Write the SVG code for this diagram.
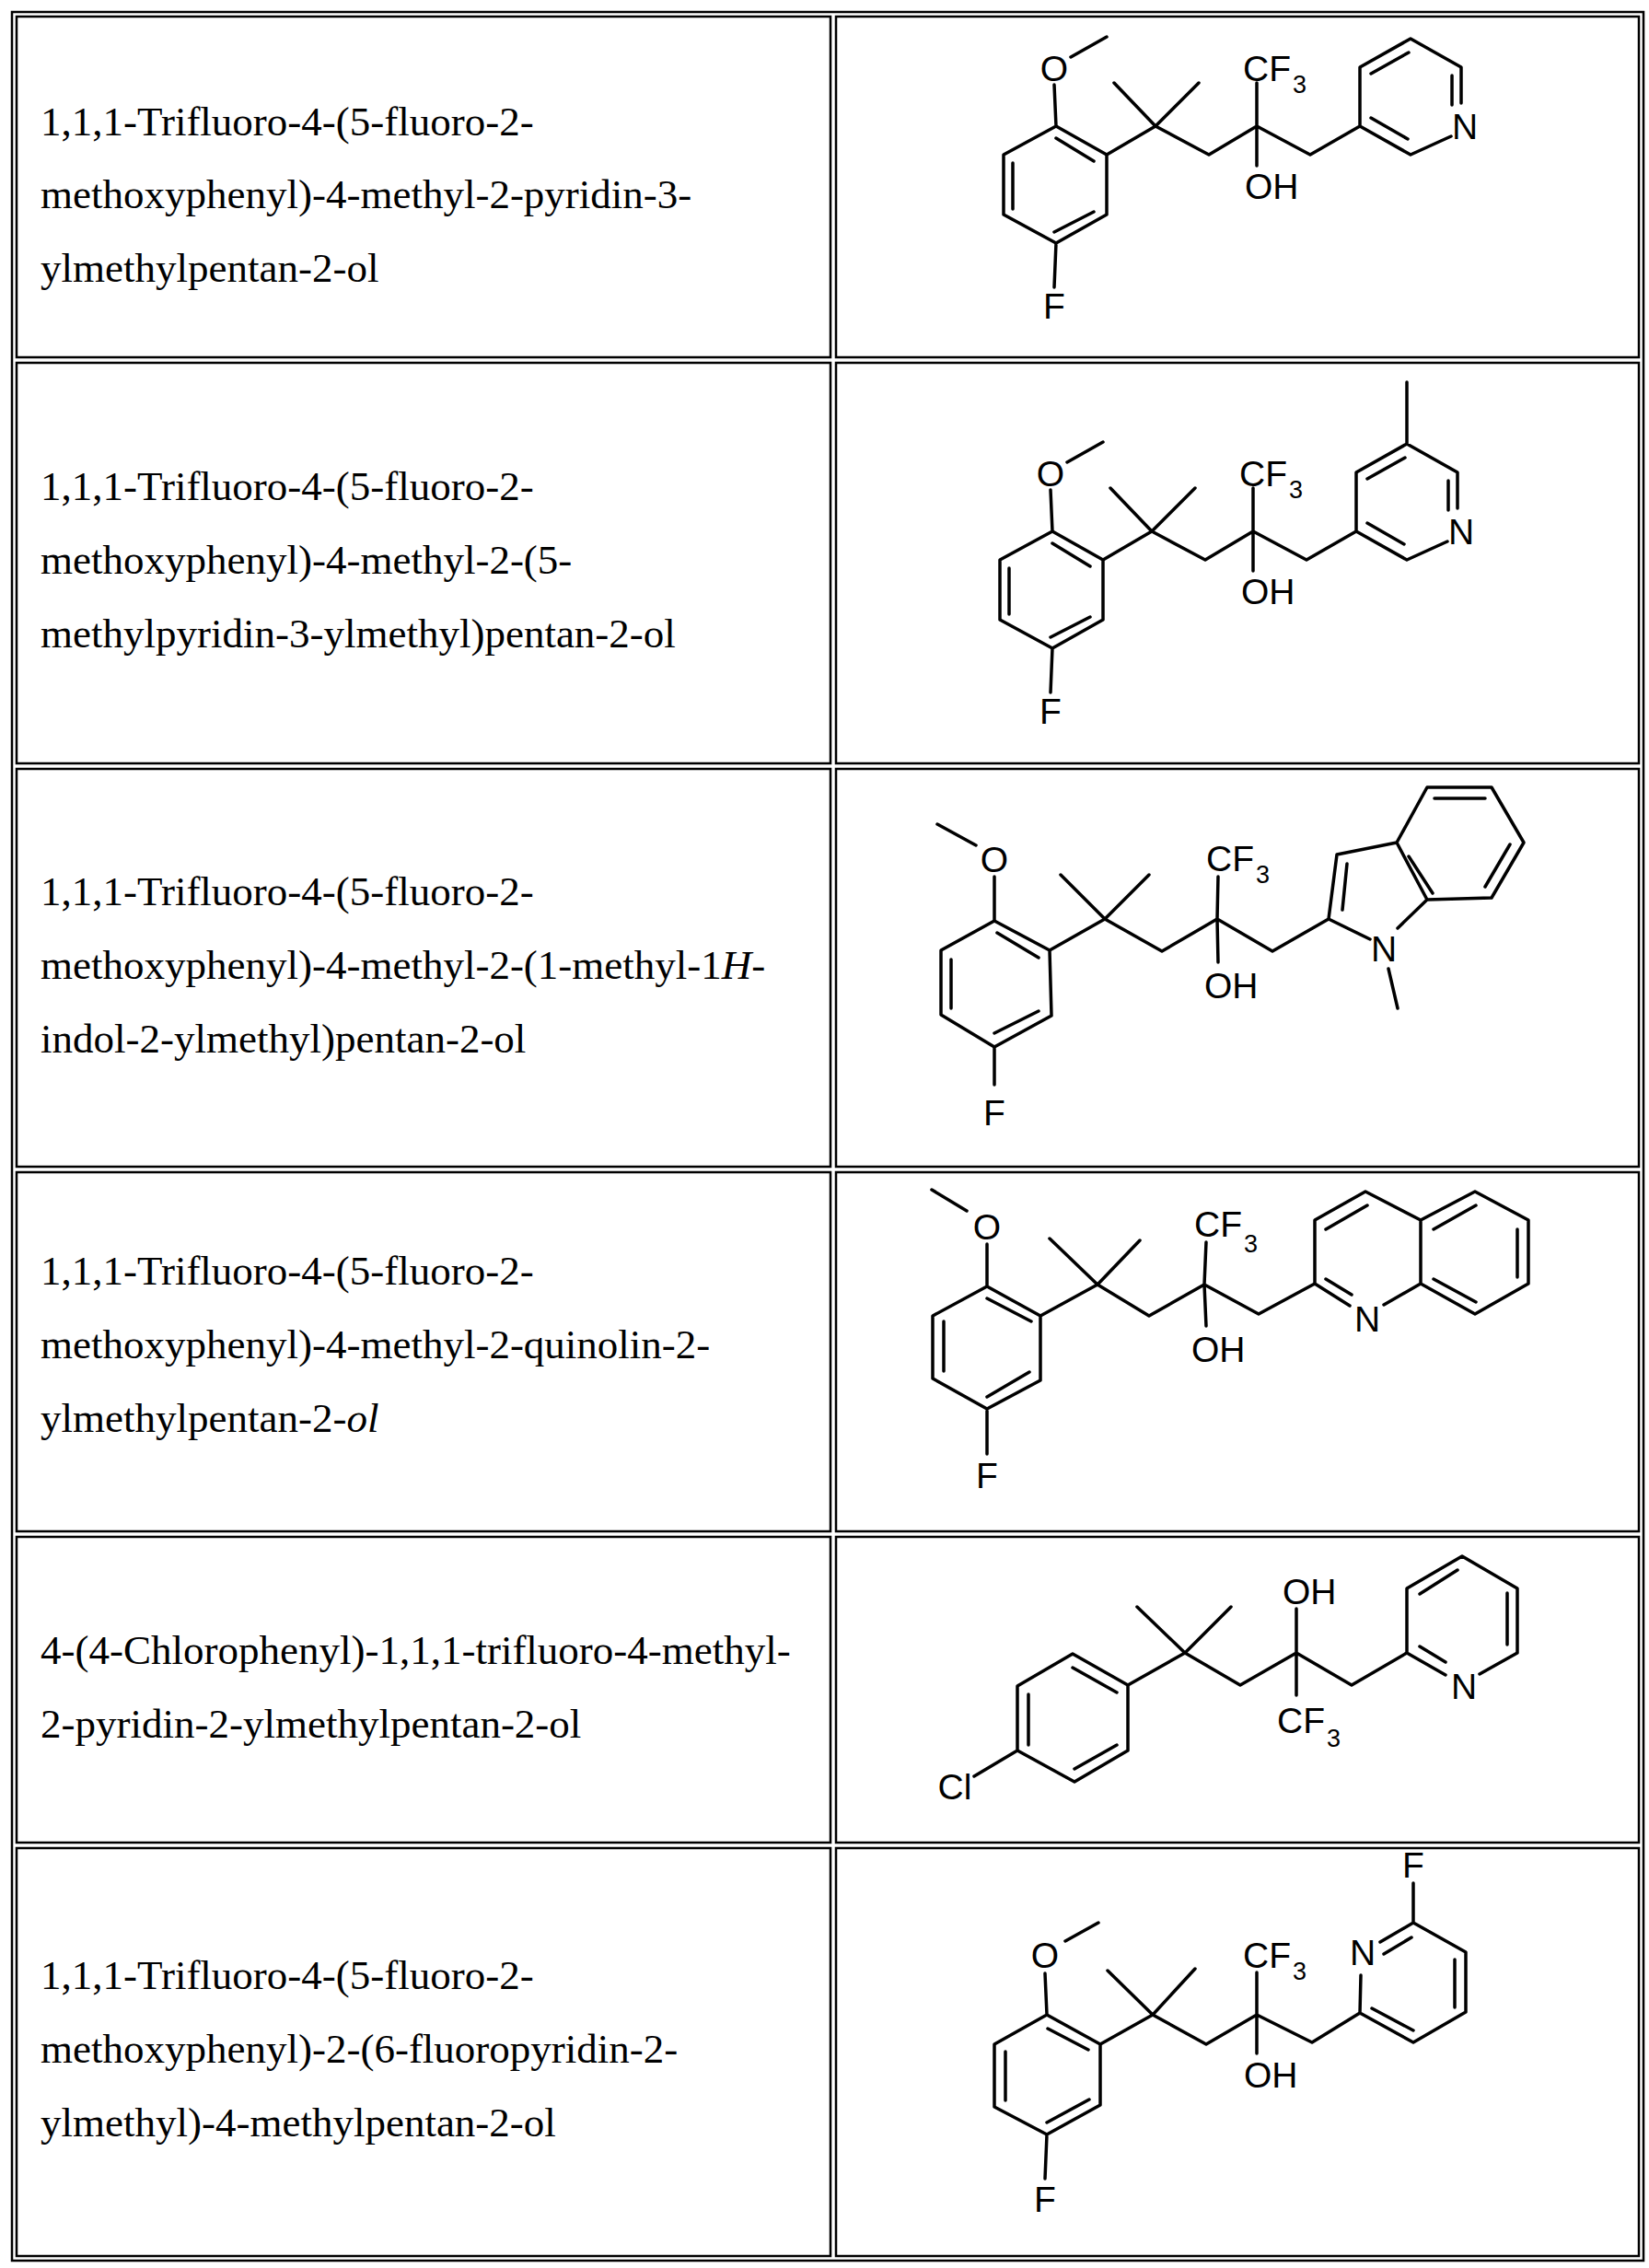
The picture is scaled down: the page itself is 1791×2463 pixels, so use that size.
<svg xmlns="http://www.w3.org/2000/svg" width="1791" height="2463" viewBox="0 0 1791 2463">
<style>
.cell{fill:none;stroke:#000;stroke-width:2.5}
.name{font-family:"Liberation Serif","Times New Roman",serif;font-size:45px;fill:#000}
.b{fill:none;stroke:#000;stroke-width:3.5;stroke-linecap:round;stroke-linejoin:round}
.a{font-family:"Liberation Sans",Arial,sans-serif;font-size:39px;fill:#000}
.s{font-family:"Liberation Sans",Arial,sans-serif;font-size:27px;fill:#000}
</style>
<rect width="1791" height="2463" fill="#fff"/>
<g id="table">
<rect class="cell" x="13" y="13" width="1772" height="2442"/>
<rect class="cell" x="18" y="18" width="884" height="370"/><rect class="cell" x="908" y="18" width="872" height="370"/>
<rect class="cell" x="18" y="394" width="884" height="435"/><rect class="cell" x="908" y="394" width="872" height="435"/>
<rect class="cell" x="18" y="835" width="884" height="432"/><rect class="cell" x="908" y="835" width="872" height="432"/>
<rect class="cell" x="18" y="1273" width="884" height="390"/><rect class="cell" x="908" y="1273" width="872" height="390"/>
<rect class="cell" x="18" y="1669" width="884" height="332"/><rect class="cell" x="908" y="1669" width="872" height="332"/>
<rect class="cell" x="18" y="2007" width="884" height="443"/><rect class="cell" x="908" y="2007" width="872" height="443"/>
</g>
<g id="name1"><text class="name" x="44" y="147">1,1,1-Trifluoro-4-(5-fluoro-2-</text><text class="name" x="44" y="226">methoxyphenyl)-4-methyl-2-pyridin-3-</text><text class="name" x="44" y="306">ylmethylpentan-2-ol</text></g>
<g id="name2"><text class="name" x="44" y="543">1,1,1-Trifluoro-4-(5-fluoro-2-</text><text class="name" x="44" y="623">methoxyphenyl)-4-methyl-2-(5-</text><text class="name" x="44" y="703">methylpyridin-3-ylmethyl)pentan-2-ol</text></g>
<g id="name3"><text class="name" x="44" y="983">1,1,1-Trifluoro-4-(5-fluoro-2-</text><text class="name" x="44" y="1063">methoxyphenyl)-4-methyl-2-(1-methyl-1<tspan font-style="italic">H</tspan>-</text><text class="name" x="44" y="1143">indol-2-ylmethyl)pentan-2-ol</text></g>
<g id="name4"><text class="name" x="44" y="1395">1,1,1-Trifluoro-4-(5-fluoro-2-</text><text class="name" x="44" y="1475">methoxyphenyl)-4-methyl-2-quinolin-2-</text><text class="name" x="44" y="1555">ylmethylpentan-2-<tspan font-style="italic">ol</tspan></text></g>
<g id="name5"><text class="name" x="44" y="1807">4-(4-Chlorophenyl)-1,1,1-trifluoro-4-methyl-</text><text class="name" x="44" y="1887">2-pyridin-2-ylmethylpentan-2-ol</text></g>
<g id="name6"><text class="name" x="44" y="2160">1,1,1-Trifluoro-4-(5-fluoro-2-</text><text class="name" x="44" y="2240">methoxyphenyl)-2-(6-fluoropyridin-2-</text><text class="name" x="44" y="2320">ylmethyl)-4-methylpentan-2-ol</text></g>

<g id="mol1">
<path class="b" d="M1147,137 L1202,168 L1202,233 L1147,264 L1090,233 L1090,168 Z M1147,150 L1188,175 M1100,177 L1100,227 M1145,252 L1188,230 M1147,137 L1145,92 M1163,62 L1202,40 M1147,264 L1145,312 M1202,168 L1255,137 L1210,90 M1255,137 L1302,90 M1255,137 L1313,168 L1365,137 L1423,168 L1477,137 M1365,137 L1365,90 M1365,137 L1365,180 M1477,137 L1477,73 L1532,42 L1587,73 L1587,112 M1576,148 L1532,168 L1477,137 M1489,80 L1530,57 M1577,82 L1577,114 M1489,128 L1529,151"/>
<text class="a" x="1145" y="88" text-anchor="middle">O</text><text class="a" x="1145" y="346" text-anchor="middle">F</text>
<text class="a" x="1350" y="88">CF</text><text class="s" x="1404" y="101">3</text>
<text class="a" x="1352" y="216">OH</text><text class="a" x="1591" y="151" text-anchor="middle">N</text>
</g>
<g id="mol2" transform="translate(-4,440)">
<path class="b" d="M1147,137 L1202,168 L1202,233 L1147,264 L1090,233 L1090,168 Z M1147,150 L1188,175 M1100,177 L1100,227 M1145,252 L1188,230 M1147,137 L1145,92 M1163,62 L1202,40 M1147,264 L1145,312 M1202,168 L1255,137 L1210,90 M1255,137 L1302,90 M1255,137 L1313,168 L1365,137 L1423,168 L1477,137 M1365,137 L1365,90 M1365,137 L1365,180 M1477,137 L1477,73 L1532,42 L1587,73 L1587,112 M1576,148 L1532,168 L1477,137 M1489,80 L1530,57 M1577,82 L1577,114 M1489,128 L1529,151 M1532,42 L1532,-25"/>
<text class="a" x="1145" y="88" text-anchor="middle">O</text><text class="a" x="1145" y="346" text-anchor="middle">F</text>
<text class="a" x="1350" y="88">CF</text><text class="s" x="1404" y="101">3</text>
<text class="a" x="1352" y="216">OH</text><text class="a" x="1591" y="151" text-anchor="middle">N</text>
</g>
<g id="mol3">
<path class="b" d="M1080,1000 L1140,1032 L1142,1103 L1080,1137 L1022,1102 L1022,1032 Z M1083,1013 L1128,1040 M1033,1042 L1033,1095 M1080,1122 L1128,1098 M1080,1000 L1080,952 M1060,918 L1018,895 M1080,1137 L1080,1178 M1140,1032 L1200,998 L1152,950 M1200,998 L1248,950 M1200,998 L1262,1033 L1322,998 L1382,1033 L1443,998 M1322,998 L1323,952 M1322,998 L1323,1045 M1443,998 L1452,928 L1517,915 L1550,977 L1518,1008 M1488,1020 L1443,998 M1463,938 L1458,988 M1530,930 L1556,970 M1508,1052 L1518,1095 M1517,915 L1550,855 L1620,855 L1655,915 L1620,975 L1550,977 M1558,867 L1613,867 M1640,917 L1613,963"/>
<text class="a" x="1080" y="947" text-anchor="middle">O</text><text class="a" x="1080" y="1222" text-anchor="middle">F</text>
<text class="a" x="1310" y="946">CF</text><text class="s" x="1364" y="959">3</text>
<text class="a" x="1308" y="1084">OH</text><text class="a" x="1503" y="1044" text-anchor="middle">N</text>
</g>
<g id="mol4">
<path class="b" d="M1072,1397 L1130,1429 L1130,1499 L1072,1530 L1013,1497 L1013,1429 Z M1072,1410 L1120,1435 M1025,1435 L1025,1489 M1072,1517 L1118,1490 M1072,1397 L1072,1351 M1050,1315 L1012,1292 M1072,1530 L1072,1579 M1130,1429 L1192,1395 L1140,1345 M1192,1395 L1238,1347 M1192,1395 L1248,1429 L1308,1395 L1367,1427 L1428,1394 M1308,1395 L1310,1349 M1308,1395 L1310,1440 M1428,1394 L1428,1325 L1483,1294 L1543,1325 L1543,1394 L1503,1417 M1466,1418 L1428,1394 M1543,1325 L1602,1294 L1660,1325 L1660,1394 L1602,1427 L1543,1394 M1440,1335 L1485,1309 M1440,1389 L1468,1406 M1557,1335 L1603,1309 M1648,1335 L1648,1387 M1557,1389 L1603,1414"/>
<text class="a" x="1072" y="1346" text-anchor="middle">O</text><text class="a" x="1072" y="1616" text-anchor="middle">F</text>
<text class="a" x="1297" y="1343">CF</text><text class="s" x="1351" y="1360">3</text>
<text class="a" x="1294" y="1479">OH</text><text class="a" x="1485" y="1446" text-anchor="middle">N</text>
</g>
<g id="mol5">
<path class="b" d="M1225,1830 L1165,1796 L1105,1831 L1105,1901 L1167,1935 L1225,1901 Z M1165,1811 L1213,1838 M1117,1840 L1117,1895 M1167,1921 L1213,1895 M1105,1901 L1058,1929 M1225,1830 L1287,1795 L1235,1745 M1287,1795 L1337,1745 M1287,1795 L1347,1830 L1408,1795 L1468,1830 L1528,1795 M1408,1795 L1408,1747 M1408,1795 L1408,1841 M1528,1795 L1528,1725 L1588,1690 L1648,1725 L1648,1795 L1607,1818 M1570,1819 L1528,1795 M1542,1731 L1583,1705 M1637,1730 L1637,1786 M1542,1788 L1570,1805"/>
<text class="a" x="1037" y="1954" text-anchor="middle">Cl</text>
<text class="a" x="1393" y="1742">OH</text>
<text class="a" x="1387" y="1882">CF</text><text class="s" x="1441" y="1897">3</text>
<text class="a" x="1590" y="1845" text-anchor="middle">N</text>
</g>
<g id="mol6">
<path class="b" d="M1137,2188 L1195,2220 L1195,2286 L1137,2318 L1080,2288 L1080,2220 Z M1138,2203 L1182,2226 M1092,2228 L1092,2281 M1137,2305 L1183,2280 M1137,2188 L1135,2143 M1157,2108 L1193,2088 M1137,2318 L1135,2366 M1195,2220 L1252,2188 L1203,2140 M1252,2188 L1298,2138 M1252,2188 L1310,2220 L1365,2188 L1425,2218 L1477,2186 M1365,2188 L1365,2142 M1365,2188 L1365,2230 M1477,2186 L1478,2145 M1499,2109 L1535,2088 L1592,2120 L1592,2185 L1535,2218 L1477,2186 M1503,2122 L1533,2104 M1580,2128 L1580,2180 M1490,2181 L1535,2205 M1535,2088 L1535,2045"/>
<text class="a" x="1135" y="2137" text-anchor="middle">O</text><text class="a" x="1135" y="2402" text-anchor="middle">F</text>
<text class="a" x="1350" y="2137">CF</text><text class="s" x="1404" y="2150">3</text>
<text class="a" x="1351" y="2267">OH</text>
<text class="a" x="1480" y="2134" text-anchor="middle">N</text><text class="a" x="1535" y="2039" text-anchor="middle">F</text>
</g>
</svg>
